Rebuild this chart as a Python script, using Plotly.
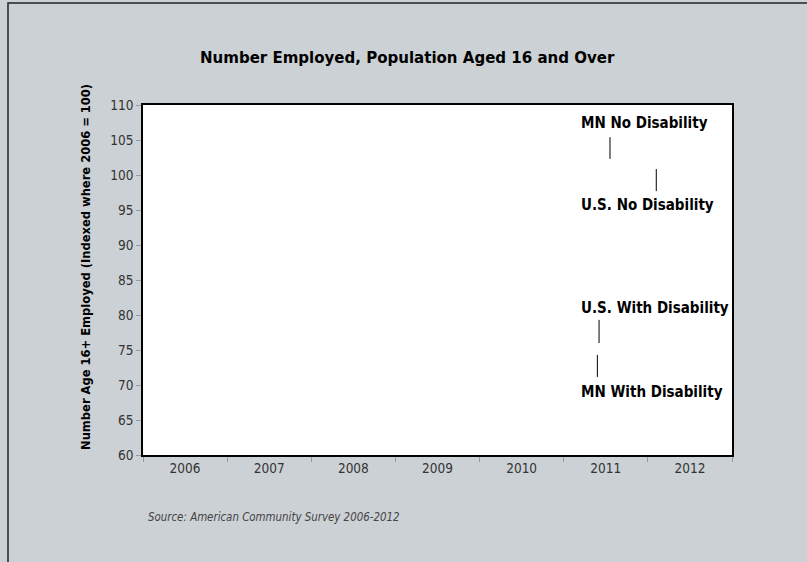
import plotly.graph_objects as go

# ---- data ----
years = [2006, 2007, 2008, 2009, 2010, 2011, 2012]
year_labels = ["2006", "2007", "2008", "2009", "2010", "2011", "2012"]
y_ticks = [60, 65, 70, 75, 80, 85, 90, 95, 100, 105, 110]
boundaries = [2005.5, 2006.5, 2007.5, 2008.5, 2009.5, 2010.5, 2011.5, 2012.5]

label_texts = ["MN No Disability", "U.S. No Disability", "U.S. With Disability", "MN With Disability"]
label_x = [2010.68, 2010.68, 2010.68, 2010.68]
label_y = [107.4, 95.7, 81.0, 69.0]

# leader lines (x, y0, y1)
leader_x = [2011.05, 2011.6, 2010.92, 2010.9]
leader_y0 = [105.4, 100.85, 79.3, 74.3]
leader_y1 = [102.3, 97.7, 76.0, 71.15]

title_text = "Number Employed, Population Aged 16 and Over"
ytitle_text = "Number Age 16+ Employed (Indexed where 2006 = 100)"
source_text = "Source: American Community Survey 2006-2012"

FONT = "DejaVu Sans Condensed, DejaVu Sans, sans-serif"
BG = "#ccd1d5"

# pixel geometry of the plot area
PL, PR, PT, PB = 143, 732, 105, 455
PW, PH = PR - PL, PB - PT


def px_x(p):
    return (p - PL) / PW


def px_y(p):
    return (PB - p) / PH


fig = go.Figure()

for x, y0, y1 in zip(leader_x, leader_y0, leader_y1):
    fig.add_trace(go.Scatter(x=[x, x], y=[y0, y1], mode="lines",
                             line=dict(color="#000000", width=1),
                             hoverinfo="skip", showlegend=False))

for t, x, y in zip(label_texts, label_x, label_y):
    fig.add_annotation(x=x, y=y, xref="x", yref="y", text="<b>" + t + "</b>",
                       showarrow=False, xanchor="left", yanchor="middle",
                       font=dict(family=FONT, size=15, color="#000000"))

fig.add_annotation(x=px_x(407), xref="paper", y=px_y(57), yref="paper",
                   text="<b>" + title_text + "</b>",
                   showarrow=False, xanchor="center", yanchor="middle",
                   font=dict(family=FONT, size=16.7, color="#000000"))

# outer border
fig.add_shape(type="rect", xref="paper", yref="paper",
              x0=px_x(8), x1=1.4, y0=-0.5, y1=px_y(3),
              line=dict(color="#222222", width=1.5), fillcolor="rgba(0,0,0,0)", layer="below")

fig.add_annotation(x=px_x(146), xref="paper", y=px_y(517), yref="paper",
                   text="<i>" + source_text + "</i>", showarrow=False,
                   xanchor="left", yanchor="middle",
                   font=dict(family=FONT, size=11.4, color="#444444"))

fig.add_annotation(x=px_x(85), xref="paper", y=px_y(267), yref="paper",
                   text="<b>" + ytitle_text + "</b>", showarrow=False, textangle=-90,
                   xanchor="center", yanchor="middle",
                   font=dict(family=FONT, size=12.8, color="#000000"))

fig.update_layout(
    width=807, height=562,
    margin=dict(l=PL, r=807 - PR, t=PT, b=562 - PB),
    paper_bgcolor=BG, plot_bgcolor="#ffffff",
    showlegend=False,
    xaxis=dict(range=[2005.5, 2012.5], tickmode="array", tickvals=years, ticktext=year_labels,
               ticks="", showgrid=False, zeroline=False,
               showline=True, linecolor="#000000", linewidth=1.5, mirror=True,
               tickfont=dict(family=FONT, size=13.5, color="#333333"),
               minor=dict(tickmode="array", tickvals=boundaries, ticks="outside",
                          ticklen=5, tickcolor="#999999", tickwidth=1, showgrid=False)),
    yaxis=dict(range=[60, 110], tickmode="array", tickvals=y_ticks,
               ticks="outside", ticklen=5, tickcolor="#999999", tickwidth=1,
               showgrid=False, zeroline=False,
               showline=True, linecolor="#000000", linewidth=1.5, mirror=True,
               tickfont=dict(family=FONT, size=13.5, color="#333333")),
)

fig.write_html("out.html", config={"displayModeBar": False},
               post_script="document.body.style.margin='0';document.body.style.background='%s';" % BG)
